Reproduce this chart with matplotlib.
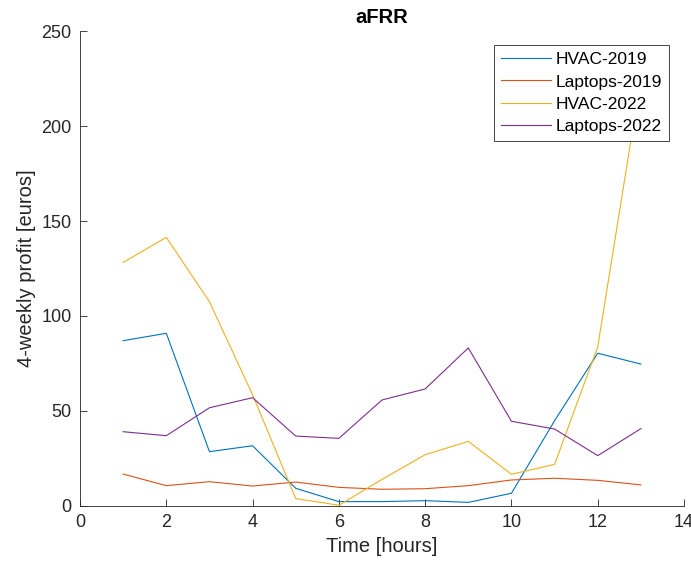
import matplotlib
matplotlib.use('Agg')
from matplotlib import pyplot as plt
import numpy as np

hours = np.arange(1, 14)
hvac_2019 = [87.0, 90.9, 28.6, 31.7, 9.3, 2.3, 2.3, 2.8, 1.9, 6.7, 44.9, 80.4, 74.7]
laptops_2019 = [16.8, 10.7, 12.8, 10.5, 12.6, 9.8, 8.8, 9.1, 10.7, 13.7, 14.6, 13.5, 11.1]
hvac_2022 = [128.2, 141.4, 107.5, 58.5, 3.9, 0.4, 14.0, 27.0, 34.0, 16.7, 21.9, 83.8, 225.0]
laptops_2022 = [39.1, 37.0, 51.7, 57.0, 36.8, 35.6, 55.8, 61.6, 83.2, 44.6, 40.5, 26.5, 40.7]

names = ['HVAC-2019', 'Laptops-2019', 'HVAC-2022', 'Laptops-2022']
colors = [(0, 0.447, 0.741), (0.85, 0.325, 0.098), (0.929, 0.694, 0.125), (0.494, 0.184, 0.556)]

plt.rcParams['font.family'] = ['Liberation Sans', 'DejaVu Sans']
axcol = '#262626'

fig = plt.figure(figsize=(6.91, 5.70), dpi=100)
ax = fig.add_axes([0.1158, 0.1123, 0.8741, 0.8333])

for ys, name, c in zip([hvac_2019, laptops_2019, hvac_2022, laptops_2022], names, colors):
    ax.plot(hours, ys, color=c, lw=0.8, label=name)

ax.set_xlim(0, 14)
ax.set_ylim(0, 250)
ax.set_xticks(np.arange(0, 15, 2))
ax.set_yticks(np.arange(0, 251, 50))
ax.spines['top'].set_visible(False)
ax.spines['right'].set_visible(False)
for s in ['left', 'bottom']:
    ax.spines[s].set_color(axcol)
    ax.spines[s].set_linewidth(0.6)
ax.tick_params(direction='in', length=5, width=0.6, colors=axcol, labelsize=13, pad=6)

ax.set_xlabel('Time [hours]', fontsize=14.5, color=axcol)
ax.set_ylabel('4-weekly profit [euros]', fontsize=14.5, color=axcol)
ax.set_title('aFRR', fontsize=14.5, fontweight='bold', color='black')

leg = ax.legend(loc='upper right', bbox_to_anchor=(0.975, 0.9705), fontsize=12.5, fancybox=False,
                framealpha=1, edgecolor=axcol, handlelength=2.9, labelspacing=0.42,
                borderpad=0.4, handletextpad=0.25, borderaxespad=0)
leg.get_frame().set_linewidth(0.6)

fig.savefig('out.png', dpi=100)
